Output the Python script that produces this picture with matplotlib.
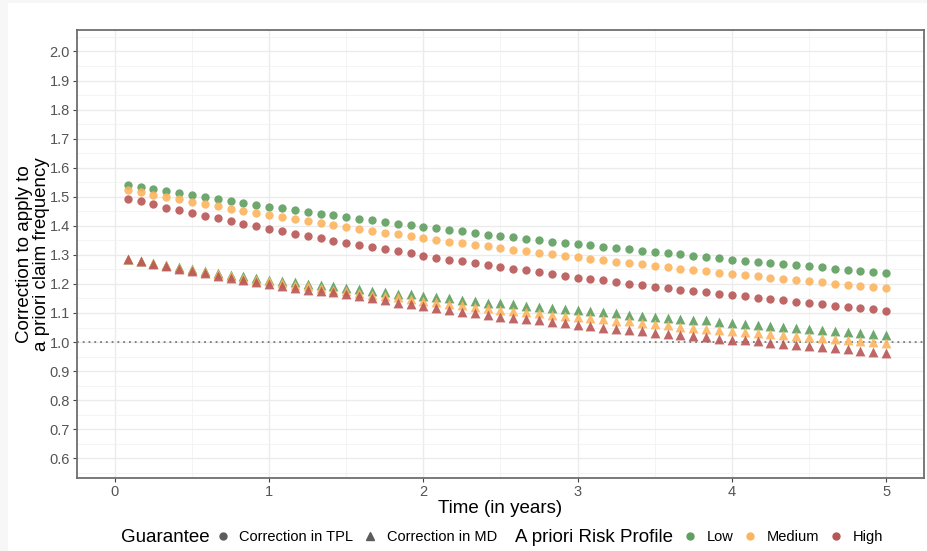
import numpy as np
import matplotlib.pyplot as plt
from matplotlib.lines import Line2D

plt.rcParams['font.family'] = ['Liberation Sans', 'DejaVu Sans']

# time grid: monthly, 1 to 60 months
months = np.arange(1, 61)
time_years = months / 12

# correction in TPL (circles)
tpl_low = [1.541, 1.534, 1.526, 1.519, 1.513, 1.506, 1.499, 1.492, 1.485, 1.478, 1.472, 1.465, 1.460, 1.454, 1.447, 1.441,
           1.436, 1.430, 1.424, 1.419, 1.413, 1.407, 1.403, 1.397, 1.391, 1.386, 1.381, 1.375, 1.370, 1.366, 1.360, 1.356,
           1.350, 1.346, 1.341, 1.336, 1.333, 1.328, 1.323, 1.319, 1.314, 1.310, 1.306, 1.302, 1.297, 1.292, 1.288, 1.284,
           1.279, 1.276, 1.272, 1.267, 1.264, 1.261, 1.257, 1.252, 1.249, 1.244, 1.242, 1.239]
tpl_medium = [1.524, 1.516, 1.507, 1.499, 1.491, 1.483, 1.475, 1.467, 1.459, 1.451, 1.444, 1.437, 1.429, 1.422, 1.415, 1.410,
              1.404, 1.397, 1.390, 1.383, 1.377, 1.372, 1.365, 1.358, 1.352, 1.346, 1.341, 1.335, 1.329, 1.323, 1.318, 1.312,
              1.308, 1.303, 1.297, 1.291, 1.287, 1.282, 1.276, 1.272, 1.267, 1.263, 1.258, 1.252, 1.248, 1.243, 1.239, 1.235,
              1.232, 1.227, 1.221, 1.218, 1.212, 1.209, 1.205, 1.201, 1.197, 1.194, 1.190, 1.186]
tpl_high = [1.494, 1.484, 1.474, 1.463, 1.453, 1.444, 1.434, 1.426, 1.415, 1.406, 1.398, 1.389, 1.381, 1.373, 1.365, 1.357,
            1.349, 1.341, 1.333, 1.326, 1.319, 1.312, 1.305, 1.297, 1.290, 1.283, 1.278, 1.271, 1.264, 1.258, 1.252, 1.247,
            1.241, 1.235, 1.228, 1.222, 1.217, 1.212, 1.206, 1.201, 1.195, 1.190, 1.185, 1.180, 1.175, 1.171, 1.165, 1.161,
            1.157, 1.151, 1.147, 1.143, 1.139, 1.134, 1.130, 1.125, 1.119, 1.116, 1.112, 1.108]

# correction in MD (triangles)
md_low = [1.286, 1.279, 1.272, 1.265, 1.258, 1.251, 1.244, 1.237, 1.230, 1.226, 1.221, 1.215, 1.210, 1.205, 1.201, 1.196,
          1.192, 1.187, 1.182, 1.177, 1.173, 1.167, 1.164, 1.159, 1.155, 1.150, 1.146, 1.142, 1.136, 1.133, 1.130, 1.124,
          1.122, 1.117, 1.114, 1.109, 1.107, 1.102, 1.099, 1.094, 1.089, 1.087, 1.083, 1.079, 1.077, 1.075, 1.069, 1.064,
          1.062, 1.059, 1.056, 1.052, 1.048, 1.045, 1.042, 1.039, 1.036, 1.032, 1.029, 1.024]
md_medium = [1.286, 1.278, 1.271, 1.264, 1.256, 1.249, 1.241, 1.233, 1.228, 1.221, 1.214, 1.209, 1.203, 1.196, 1.192, 1.185,
             1.180, 1.174, 1.169, 1.163, 1.159, 1.154, 1.148, 1.142, 1.138, 1.132, 1.127, 1.122, 1.117, 1.111, 1.107, 1.103,
             1.099, 1.094, 1.089, 1.086, 1.083, 1.078, 1.073, 1.071, 1.064, 1.061, 1.057, 1.053, 1.049, 1.046, 1.041, 1.038,
             1.034, 1.031, 1.028, 1.024, 1.021, 1.017, 1.014, 1.010, 1.006, 1.002, 0.999, 0.995]
md_high = [1.286, 1.278, 1.269, 1.263, 1.253, 1.244, 1.237, 1.228, 1.222, 1.214, 1.207, 1.199, 1.194, 1.187, 1.180, 1.176,
           1.171, 1.164, 1.157, 1.150, 1.143, 1.136, 1.130, 1.123, 1.117, 1.110, 1.104, 1.099, 1.093, 1.087, 1.081, 1.079,
           1.075, 1.070, 1.064, 1.060, 1.055, 1.050, 1.045, 1.041, 1.037, 1.032, 1.029, 1.023, 1.020, 1.016, 1.010, 1.008,
           1.006, 1.002, 0.997, 0.993, 0.990, 0.986, 0.983, 0.978, 0.975, 0.970, 0.967, 0.962]

profiles = ['Low', 'Medium', 'High']
profile_colors = ['#5f9f5f', '#fdb45e', '#b85656']

fig = plt.figure(figsize=(9.27, 5.51), dpi=100, facecolor='#f7f7f7')
fig.patches.append(plt.Rectangle((8 / 927, 0), 1, 1 - 3 / 551, transform=fig.transFigure,
                                 facecolor='white', edgecolor='none', zorder=-1))
ax = fig.add_axes([77 / 927, 1 - 478 / 551, (924 - 77) / 927, (478 - 30) / 551])

for vals, col in zip([tpl_low, tpl_medium, tpl_high], profile_colors):
    ax.scatter(time_years, vals, s=36, marker='o', color=col, alpha=0.9, linewidths=0, zorder=3)
for vals, col in zip([md_low, md_medium, md_high], profile_colors):
    ax.scatter(time_years, vals, s=50, marker='^', color=col, alpha=0.9, linewidths=0, zorder=3)

ax.axhline(1.0, color='#7a7a7a', linestyle=(0, (1, 2.2)), linewidth=1.3, zorder=2)

ax.set_xlim(-0.246, 5.246)
ax.set_ylim(0.532, 2.074)
ax.set_xticks(range(0, 6))
ax.set_xticks(np.arange(0.5, 5, 1), minor=True)
ax.set_yticks(np.round(np.arange(0.6, 2.01, 0.1), 1))
ax.set_yticks(np.arange(0.55, 2.07, 0.1), minor=True)
ax.set_yticklabels([f'{v:.1f}' for v in np.arange(0.6, 2.01, 0.1)])
ax.grid(which='major', color='#ebebeb', linewidth=1.0, zorder=0)
ax.grid(which='minor', color='#f3f3f3', linewidth=0.6, zorder=0)
ax.set_axisbelow(True)
ax.tick_params(which='major', length=3, color='#444444', labelcolor='#555555', labelsize=10.5, width=0.8, pad=2)
ax.tick_params(which='minor', length=0)
for sp in ax.spines.values():
    sp.set_color('#6e6e6e')
    sp.set_linewidth(1.3)

ax.set_xlabel('Time (in years)', fontsize=13.5, labelpad=1)
ax.set_ylabel('Correction to apply to\na priori claim frequency', fontsize=13.5, labelpad=0, linespacing=0.95)

# legend along the bottom
leg_y = 1 - 537 / 551
fig.text(121 / 927, leg_y, 'Guarantee', fontsize=13.5, va='center', ha='left')
h_guar = [Line2D([], [], marker='o', linestyle='', color='#5c5c5c', markersize=5),
          Line2D([], [], marker='^', linestyle='', color='#5c5c5c', markersize=6)]
leg1 = fig.legend(h_guar, ['Correction in TPL', 'Correction in MD'], ncol=2, frameon=False,
                  loc='center left', bbox_to_anchor=(208 / 927, leg_y), fontsize=10.5,
                  handlelength=1.0, handletextpad=0.65, columnspacing=0.66, borderpad=0)
fig.text(515 / 927, leg_y, 'A priori Risk Profile', fontsize=13.5, va='center', ha='left')
h_prof = [Line2D([], [], marker='o', linestyle='', color=c, markersize=5) for c in profile_colors]
leg2 = fig.legend(h_prof, profiles, ncol=3, frameon=False,
                  loc='center left', bbox_to_anchor=(675 / 927, leg_y), fontsize=10.5,
                  handlelength=1.0, handletextpad=0.65, columnspacing=0.66, borderpad=0)

fig.savefig('out.png', dpi=100, facecolor=fig.get_facecolor())
